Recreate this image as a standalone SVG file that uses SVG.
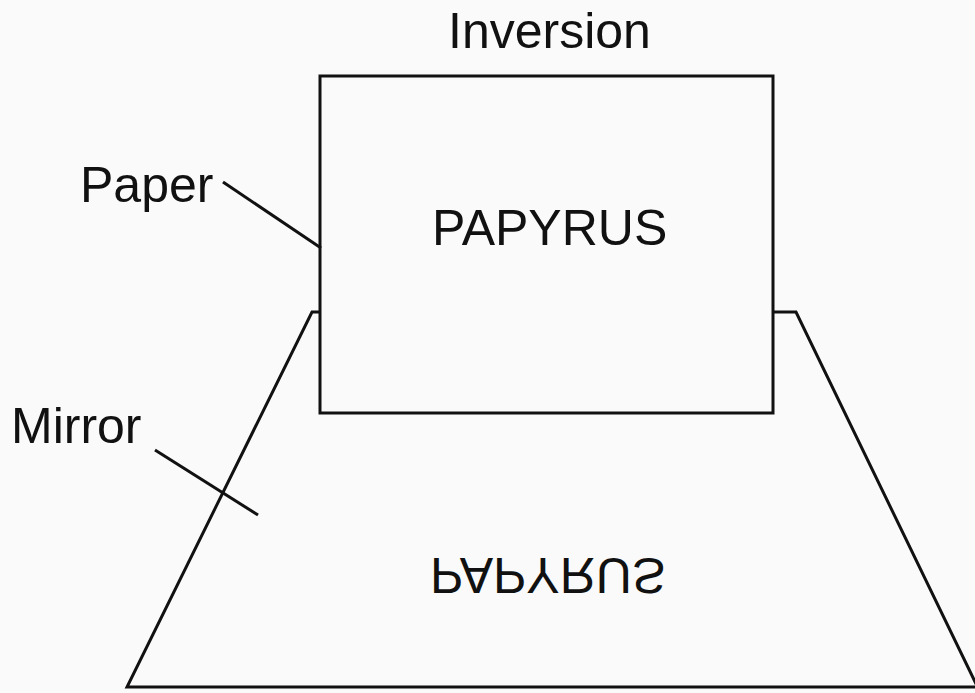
<svg xmlns="http://www.w3.org/2000/svg" width="975" height="693" viewBox="0 0 975 693">
<style>
.ln{fill:none;stroke:#111;stroke-width:3;stroke-linejoin:miter}
.lbl{font-family:"Liberation Sans",Arial,sans-serif;font-size:50px;fill:#111}
</style>
<rect x="0" y="0" width="975" height="693" fill="#fafafa"/>
<g id="mirror">
<polyline class="ln" points="319,312 312,312 127,687 975,687"/>
<polyline class="ln" points="773,312 796,312 978,688"/>
<text class="lbl" x="430" y="0" transform="translate(0,558) scale(1,-1)">PAPYRUS</text>
</g>
<g id="paper">
<rect class="ln" x="320" y="76" width="453" height="337"/>
<text class="lbl" x="432" y="245">PAPYRUS</text>
</g>
<g id="title">
<text class="lbl" x="448" y="48">Inversion</text>
</g>
<g id="label-paper">
<text class="lbl" x="80" y="202">Paper</text>
</g>
<g id="label-mirror">
<text class="lbl" x="11" y="443">Mirror</text>
</g>
<g id="connectors">
<line class="ln" x1="223" y1="182" x2="321" y2="248"/>
<line class="ln" x1="155" y1="450" x2="258" y2="515"/>
</g>
</svg>
